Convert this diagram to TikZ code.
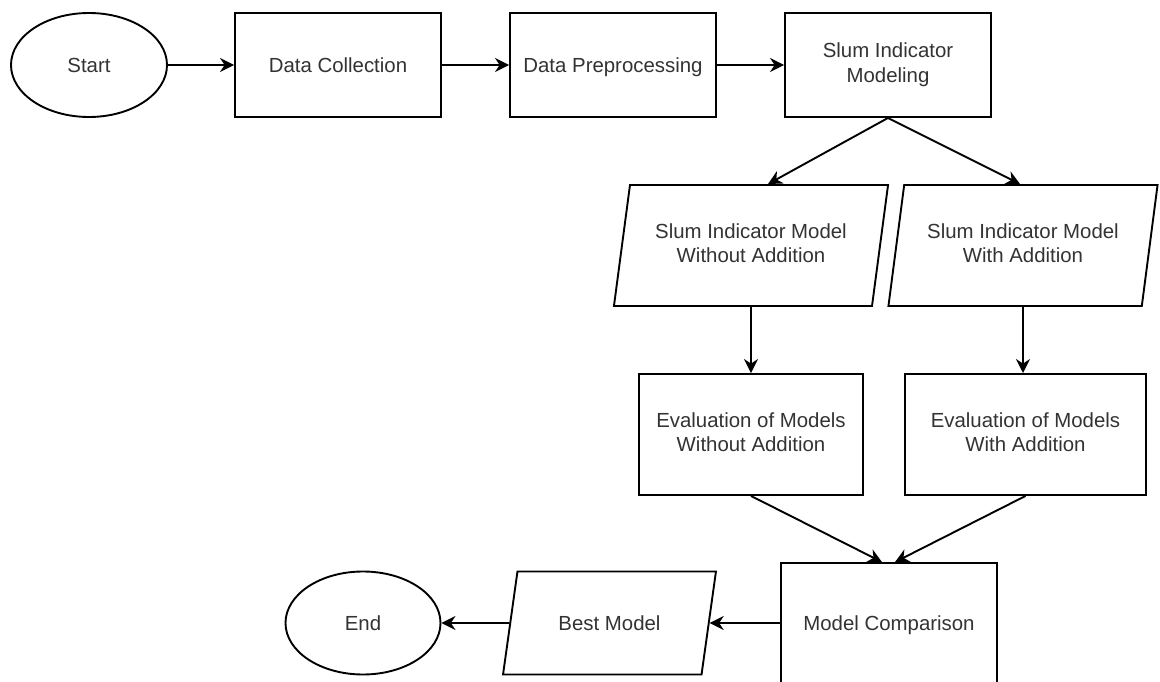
\documentclass[tikz,border=0pt]{standalone}
\usepackage{fontspec}
\setmainfont{Liberation Sans}
\usetikzlibrary{shapes.geometric,arrows.meta,positioning,calc}
\newcommand{\capstrut}{\rule[-5pt]{0pt}{24.6pt}}

\begin{document}
\begin{tikzpicture}[x=1pt, y=-1pt, node distance=275pt, line width=1.9pt, auto]
  % Define styles
  \tikzstyle{terminal} = [ellipse, draw, minimum width=156pt, minimum height=104pt, inner sep=0pt, text=black!80, font=\fontsize{20.4}{24.5}\selectfont, execute at begin node=\capstrut, execute at end node=\capstrut]
  \tikzstyle{process} = [rectangle, draw, minimum width=206pt, minimum height=104pt, align=center, inner sep=0pt, text=black!80, font=\fontsize{20.4}{24.5}\selectfont, execute at begin node=\capstrut, execute at end node=\capstrut]
  \tikzstyle{data} = [trapezium, trapezium left angle=74, trapezium right angle=106, trapezium stretches=true, draw, minimum height=121pt, align=center, inner sep=0pt, text=black!80, font=\fontsize{20.4}{24.5}\selectfont, execute at begin node=\capstrut, execute at end node=\capstrut]
  \tikzstyle{arrow} = [-{Stealth[length=14pt,width=14pt]}]

  \useasboundingbox (0,0) rectangle (1160,682);
  \fill [white] (0,0) rectangle (1160,682);

  % Top row
  \node [terminal] (start) at (89,65) {Start};
  \node [process, right of=start, node distance=249pt] (collect) {Data Collection};
  \node [process, right of=collect] (prep) {Data Preprocessing};
  \node [process, right of=prep] (model) {Slum Indicator\\Modeling};

  % Two model branches
  \node [data, minimum width=275pt] (plain) at (751,245.5) {Slum Indicator Model\\Without Addition};
  \node [data, minimum width=270pt] (added) at (1023,245.5) {Slum Indicator Model\\With Addition};
  \node [process, minimum width=224pt, minimum height=121pt, below of=plain, node distance=189pt] (evalplain) {Evaluation of Models\\Without Addition};
  \node [process, minimum width=241pt, minimum height=121pt, below of=added, node distance=189pt, xshift=2.5pt] (evaladded) {Evaluation of Models\\With Addition};

  % Bottom row
  \node [process, minimum width=216pt, minimum height=120pt] (compare) at (889,623) {Model Comparison};
  \node [data, minimum width=213pt, minimum height=103pt, trapezium left angle=72, trapezium right angle=108, left of=compare, node distance=279.5pt] (best) {Best Model};
  \node [terminal, minimum width=155pt, minimum height=103pt, left of=best, node distance=246.5pt] (end) {End};

  % Flow
  \draw [arrow] (start) -- (collect);
  \draw [arrow] (collect) -- (prep);
  \draw [arrow] (prep) -- (model);
  \draw [arrow] (model.south) -- ([xshift=17pt]plain.north);
  \draw [arrow] (model.south) -- ([xshift=-3pt]added.north);
  \draw [arrow] (plain.south) -- (evalplain.north);
  \draw [arrow] (added.south) -- (added.south |- evaladded.north);
  \draw [arrow] (evalplain.south) -- ([xshift=-7pt]compare.north);
  \draw [arrow] (evaladded.south) -- ([xshift=6pt]compare.north);
  \draw [arrow] (compare) -- (best);
  \draw [arrow] (best) -- (end);
\end{tikzpicture}
\end{document}
